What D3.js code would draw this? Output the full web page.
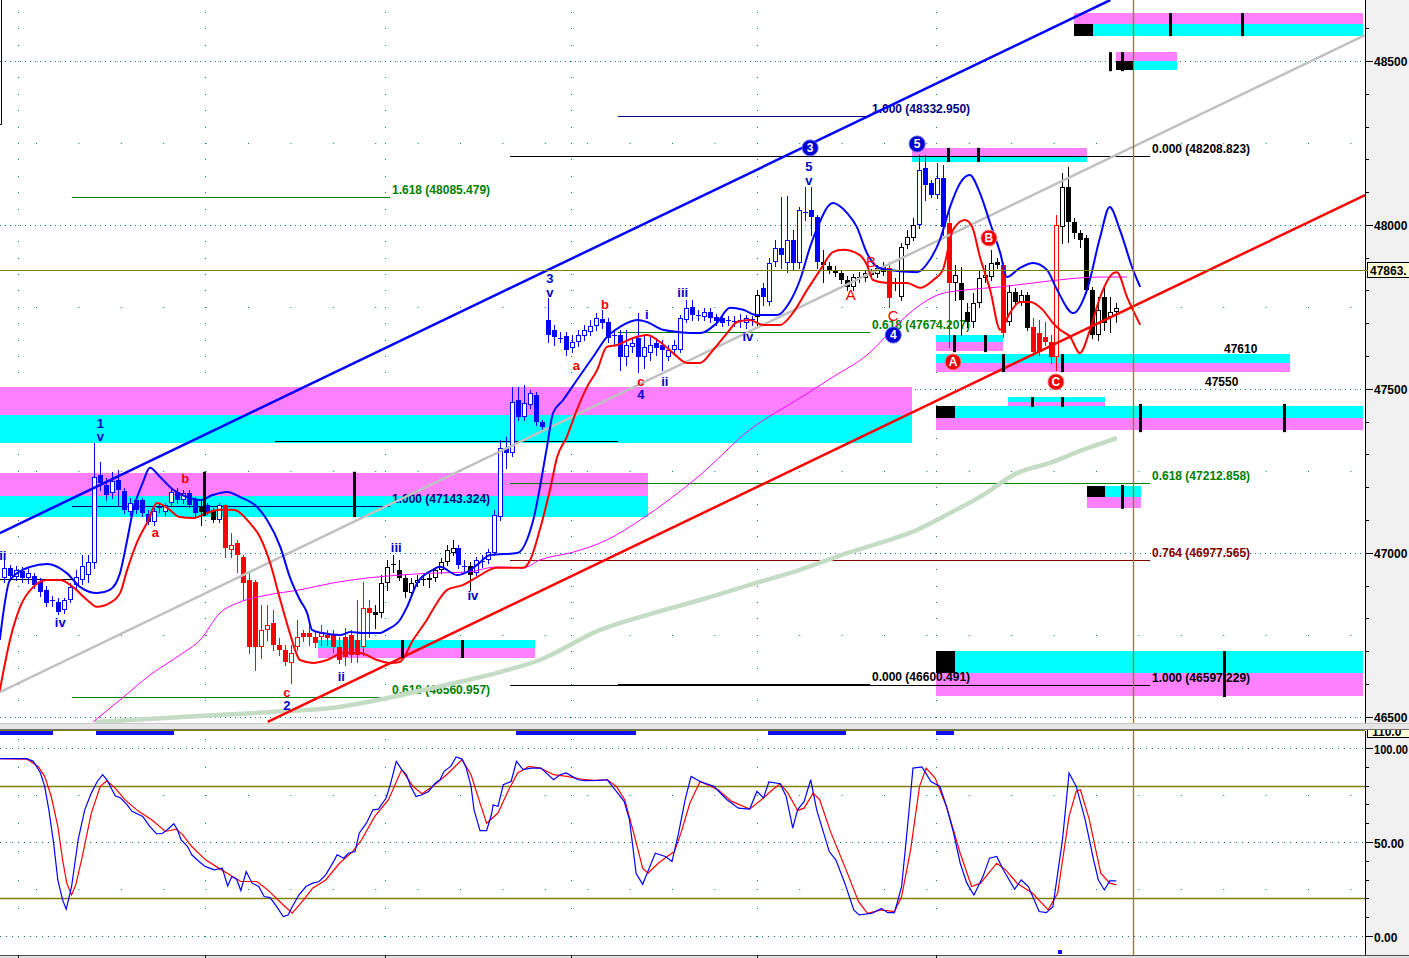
<!DOCTYPE html>
<html><head><meta charset="utf-8">
<script src="https://cdn.jsdelivr.net/npm/d3@7/dist/d3.min.js"></script>
<style>
html,body{margin:0;padding:0;background:#fff;overflow:hidden;}
svg{display:block;font-family:"Liberation Sans",Arial,sans-serif;}
</style></head><body>
<svg id="chart" width="1409" height="958"></svg>
<script>
// ---- price bars (bar index = position in arrays) ----
const opens = [
46923,46954,46926,46944,46923,46929,46911,46887,46856,46850,
46826,46856,46902,46917,46932,46969,47237,47207,47182,47222,
47188,47124,47161,47161,47118,47094,47137,47124,47152,47185,
47161,47182,47161,47140,47146,47131,47100,47146,47009,47030,
46987,46917,46911,46713,46765,46786,46719,46704,46664,46713,
46755,46755,46743,46743,46749,46749,46713,46743,46749,46734,
46713,46832,46819,46816,46908,46963,46948,46923,46877,46908,
46917,46917,46923,46948,46972,46999,47015,46960,46960,46938,
46972,46978,46999,47109,47320,47304,47466,47414,47451,47481,
47399,47710,47680,47655,47661,47625,47643,47661,47673,47692,
47713,47704,47664,47664,47597,47628,47655,47597,47609,47640,
47634,47597,47619,47619,47710,47750,47725,47719,47734,47719,
47716,47710,47707,47707,47701,47710,47719,47808,47765,47887,
47930,47884,47954,47884,48039,48046,48024,47887,47875,47863,
47853,47832,47811,47838,47838,47856,47850,47856,47869,47823,
47780,47939,47960,48000,48174,48128,48091,48143,48006,47823,
47823,47734,47704,47762,47838,47841,47887,47878,47704,47795,
47765,47786,47689,47670,47658,47643,47597,47994,48116,48009,
47975,47960,47802,47664,47780,47719,47734];
const highs = [
46978,46963,46960,46957,46951,46938,46923,46899,46868,46862,
46862,46908,46948,46993,46993,47335,47277,47228,47246,47253,
47198,47167,47170,47167,47131,47137,47149,47152,47198,47198,
47192,47192,47170,47161,47152,47137,47152,47150,47060,47039,
46993,46938,46917,46841,46841,46826,46740,46719,46719,46795,
46765,46780,46758,46780,46765,46765,46743,46771,46765,46856,
46911,46856,46841,46932,46978,46993,46978,46932,46923,46932,
46932,46935,46957,46984,47024,47039,47024,46978,46972,46987,
46993,47012,47131,47344,47353,47506,47506,47512,47497,47490,
47405,47777,47695,47673,47673,47664,47680,47695,47710,47731,
47741,47716,47680,47680,47680,47655,47731,47664,47664,47655,
47649,47634,47649,47725,47771,47771,47741,47747,47747,47728,
47725,47722,47722,47728,47725,47722,47802,47823,47899,47954,
48085,48088,47985,48055,48116,48116,48030,47924,47887,47875,
47863,47844,47850,47856,47863,47866,47878,47887,47887,47838,
47945,47985,48021,48213,48213,48137,48189,48183,48052,47878,
47872,47762,47792,47863,47878,47924,47899,47887,47817,47808,
47802,47795,47716,47710,47704,47664,48030,48158,48177,48021,
47985,47969,47811,47780,47811,47780,47762];
const lows = [
46911,46917,46917,46911,46908,46893,46868,46838,46838,46813,
46816,46850,46893,46905,46911,46954,47192,47161,47167,47146,
47121,47115,47121,47112,47088,47085,47124,47115,47143,47152,
47152,47140,47112,47085,47118,47094,47094,46987,46987,46941,
46856,46694,46643,46679,46734,46704,46688,46658,46603,46704,
46731,46719,46713,46719,46719,46697,46664,46658,46667,46667,
46688,46743,46771,46804,46887,46941,46917,46865,46865,46899,
46902,46896,46914,46938,46963,46993,46954,46941,46887,46932,
46957,46969,46993,47100,47259,47295,47405,47405,47442,47390,
47375,47643,47634,47643,47603,47612,47631,47649,47664,47680,
47686,47643,47634,47558,47573,47612,47551,47564,47588,47603,
47558,47588,47609,47612,47704,47710,47710,47710,47704,47695,
47692,47695,47692,47689,47686,47695,47695,47756,47756,47875,
47869,47856,47863,47869,48015,47969,47869,47826,47853,47844,
47823,47802,47802,47826,47829,47838,47841,47847,47750,47802,
47771,47930,47954,47991,48076,48085,48082,47969,47628,47771,
47664,47689,47689,47750,47826,47832,47869,47658,47695,47756,
47756,47680,47603,47603,47634,47579,47558,47945,47948,47960,
47933,47792,47655,47649,47680,47673,47704];
const closes = [
46954,46929,46948,46923,46938,46902,46880,46847,46853,46819,
46856,46896,46926,46960,46972,47231,47213,47176,47219,47192,
47131,47152,47131,47121,47094,47127,47140,47146,47185,47161,
47182,47146,47121,47124,47124,47100,47146,47015,47024,46993,
46908,46713,46713,46765,46780,46719,46704,46667,46694,46743,
46743,46743,46725,46755,46740,46713,46673,46682,46688,46688,
46832,46816,46810,46908,46957,46966,46923,46880,46908,46917,
46920,46923,46948,46972,47009,47015,46963,46957,46932,46978,
46975,47002,47115,47320,47304,47460,47414,47457,47487,47399,
47384,47664,47658,47652,47619,47643,47664,47680,47692,47716,
47701,47655,47661,47597,47634,47640,47597,47628,47634,47625,
47619,47619,47634,47716,47747,47725,47722,47734,47716,47707,
47701,47707,47704,47710,47716,47713,47786,47780,47884,47930,
47908,47954,47884,48046,48036,48024,47887,47878,47863,47853,
47832,47811,47841,47841,47853,47847,47869,47872,47777,47826,
47933,47963,48000,48168,48122,48091,48143,47994,47823,47847,
47771,47704,47762,47838,47847,47884,47878,47670,47795,47765,
47786,47686,47612,47612,47643,47597,48000,48116,48009,47975,
47954,47802,47664,47741,47701,47734,47747];
// bar colouring state, as runs of [tone, count]
const toneRuns = [["b",33],["k",1],["b",1],["k",1],["b",1],["r",25],["k",14],["b",2],["k",1],["b",47],
  ["k",1],["b",10],["k",11],["r",1],["k",4],["b",5],["r",1],["k",8],["r",1],["k",4],["r",5],["k",10]];

// ---- overlays: [bar index, price] ----
const fastBand = [[-0.7,46734],[1.0,46917],[4.4,46957],[7.2,46966],[10.5,46938],[12.7,46896],[15.6,46877],[17.7,46887],[19.4,46938],[20.6,47039],[21.6,47131],[23.2,47213],[24.4,47259],[26.1,47231],[28.3,47192],[30.6,47170],[32.8,47161],[34.9,47176],[37.3,47185],[39.5,47170],[42.3,47140],[44.0,47100],[46.2,47018],[47.8,46926],[49.5,46856],[50.7,46816],[51.5,46765],[53.3,46755],[56.2,46749],[57.9,46758],[60.0,46755],[62.9,46755],[64.0,46765],[66.2,46795],[67.4,46835],[69.1,46908],[71.7,46948],[72.9,46957],[75.8,46932],[77.4,46941],[79.1,46963],[81.3,46993],[85.8,46999],[88.5,47100],[90.8,47323],[91.8,47426],[93.5,47466],[95.8,47527],[98.5,47597],[100.8,47658],[103.0,47689],[105.9,47710],[107.5,47704],[110.2,47680],[113.0,47673],[116.4,47670],[119.2,47701],[121.4,47747],[123.6,47741],[125.9,47725],[129.3,47725],[131.4,47765],[133.1,47832],[134.8,47933],[136.0,47991],[138.6,48067],[141.0,48036],[142.6,47994],[144.3,47914],[146.0,47872],[147.7,47863],[152.7,47856],[154.8,47893],[156.5,47954],[158.2,48055],[159.9,48128],[161.5,48152],[163.2,48097],[164.9,48006],[166.6,47914],[167.7,47841],[169.9,47869],[172.1,47884],[174.4,47863],[176.1,47802],[178.8,47731],[181.1,47802],[183.3,47963],[184.9,48055],[186.6,47985],[188.8,47863],[190.0,47811]];
const slowBand = [[-0.7,46580],[1.0,46734],[2.7,46835],[4.9,46896],[7.2,46917],[9.4,46917],[11.5,46896],[13.9,46856],[15.6,46835],[17.7,46847],[19.4,46877],[20.6,46948],[22.2,47030],[23.9,47091],[25.6,47152],[27.3,47137],[29.4,47109],[31.6,47106],[33.9,47121],[36.1,47131],[38.3,47131],[41.1,47091],[42.8,47048],[44.5,46969],[46.2,46856],[47.8,46755],[49.5,46673],[51.7,46664],[54.0,46673],[56.7,46694],[59.5,46694],[62.4,46673],[64.5,46664],[66.2,46667],[68.4,46734],[70.7,46795],[72.4,46847],[74.1,46887],[76.8,46902],[79.1,46926],[82.4,46954],[86.8,46954],[88.0,46978],[89.6,47070],[91.3,47192],[92.5,47292],[94.1,47353],[95.8,47436],[97.5,47506],[99.2,47558],[100.8,47628],[102.5,47634],[105.2,47655],[107.5,47664],[109.7,47643],[111.9,47609],[114.2,47579],[116.4,47579],[118.6,47619],[120.9,47670],[122.6,47704],[124.7,47710],[126.9,47695],[129.8,47695],[131.9,47731],[134.3,47802],[136.5,47863],[138.6,47917],[140.3,47924],[143.1,47908],[144.3,47878],[145.3,47832],[147.7,47823],[151.0,47823],[153.2,47808],[155.4,47832],[157.0,47863],[158.7,47985],[160.7,48015],[161.9,47994],[163.2,47902],[164.9,47802],[166.6,47680],[168.2,47731],[169.9,47765],[171.6,47765],[173.7,47741],[175.4,47701],[176.6,47680],[178.3,47658],[179.9,47609],[181.6,47680],[183.3,47780],[185.5,47853],[186.1,47856],[187.8,47780],[190.0,47695]];
const midAverage = [[14.9,46484],[19.4,46551],[24.4,46627],[29.4,46688],[32.8,46734],[36.1,46816],[39.5,46850],[44.0,46871],[49.5,46887],[55.0,46908],[60.7,46923],[66.2,46932],[71.7,46938],[77.4,46941],[82.4,46957],[86.8,46954],[89.6,46978],[95.2,47002],[100.8,47039],[106.4,47100],[116.4,47237],[124.7,47375],[133.1,47472],[138.6,47536],[144.3,47603],[149.8,47704],[153.2,47756],[156.5,47789],[161.0,47802],[166.6,47811],[172.1,47823],[177.8,47835],[183.3,47841],[187.8,47841]];
const longAverage = [[15.2,46484],[32.8,46502],[44.5,46514],[55.0,46527],[63.4,46554],[71.7,46588],[82.9,46636],[89.6,46673],[99.7,46765],[108.0,46813],[116.4,46856],[124.7,46902],[133.1,46948],[141.5,47002],[147.0,47033],[152.7,47070],[158.2,47121],[163.7,47176],[169.4,47243],[174.9,47274],[180.4,47314],[186.1,47350]];

// straight trend lines: [index0, price0, index1, price1, kind]
const trendLines = [
  [-0.7, 46575, 227.6, 48579, "median"],
  [-0.7, 47060, 185.0, 48686, "channel"],
  [44.1, 46484, 227.6, 48091, "support"]
];

// fibonacci levels: [from index, to index, price, ratio, tone]
const fibLevels = [
  [11.4, 64.5, 48085.479, "1.618", "green"],
  [102.7, 144.8, 48332.950, "1.000", "navy"],
  [84.6, 191.6, 48208.823, "0.000", "black"],
  [102.7, 144.8, 47674.207, "0.618", "green"],
  [11.4, 64.5, 47143.324, "1.000", "navy"],
  [11.4, 64.5, 46560.957, "0.618", "green"],
  [102.7, 144.8, 46600.491, "0.000", "black"],
  [84.6, 191.6, 46597.229, "1.000", "black"],
  [84.6, 191.6, 47212.858, "0.618", "green"],
  [84.6, 191.6, 46977.565, "0.764", "maroon"],
  [45.4, 102.7, 47341, null, "black"],
  [-0.7, 11.4, 46920, null, "black"]
];

// supply / demand zones: [from, to, upper, middle, lower, order]
const zones = [
  [-0.7, 151.8, 47506, 47420, 47335, "mc"],
  [-0.7, 107.7, 47243, 47173, 47109, "mc"],
  [52.5, 88.8, 46734, 46710, 46679, "cm"],
  [178.9, 227.3, 48646, 48613, 48576, "mc"],
  [186.0, 196.2, 48527, 48500, 48472, "mc"],
  [151.8, 181.1, 48235, 48207, 48192, "mc"],
  [155.9, 167.1, 47664, 47643, 47615, "cm"],
  [155.9, 215.1, 47606, 47579, 47551, "cm"],
  [167.9, 184.1, 47475, 47460, 47445, "cm"],
  [155.9, 227.3, 47448, 47411, 47374, "cm"],
  [181.1, 190.1, 47204, 47170, 47137, "cm"],
  [155.9, 227.3, 46700, 46633, 46563, "cm"]
];
const zoneBlocks = [[178.9,182.1,48613,48576],[186.0,189.0,48500,48472],[155.9,159.0,47448,47411],[181.1,184.1,47204,47170],[155.9,159.0,46700,46633]];
const zoneTicks = [[33.4,47247,47112],[58.5,47247,47109],[66.6,46734,46679],[76.6,46734,46679],
  [195.0,48646,48576],[207.0,48646,48576],[184.9,48527,48469],[186.9,48527,48469],
  [157.9,48235,48192],[162.9,48235,48192],[158.9,47664,47612],[164.0,47664,47612],
  [167.1,47606,47551],[176.9,47606,47551],[171.9,47475,47445],[176.9,47475,47445],
  [190.0,47454,47368],[214.0,47454,47368],[186.9,47207,47134],[204.0,46700,46560]];
const zoneLabels = [[204.0, 47606, "47610", "above"], [200.8, 47551, "47550", "below"]];

// wave counts: [index, price, text, tone]
const waveLabels = [
  [-0.2,46993,"ii","b"],[9.4,46789,"iv","b"],[16.1,47396,"1","b"],[16.1,47356,"v","b"],
  [47.3,46536,"2","b"],[47.3,46575,"c","r"],[56.4,46624,"ii","b"],[65.6,47018,"iii","b"],
  [78.4,46871,"iv","b"],[25.3,47063,"a","r"],[30.3,47228,"b","r"],[91.3,47838,"3","b"],
  [91.3,47795,"v","b"],[95.7,47573,"a","r"],[100.5,47759,"b","r"],[107.5,47728,"i","b"],
  [106.5,47524,"c","r"],[106.5,47484,"4","b"],[110.5,47524,"ii","b"],[113.5,47795,"iii","b"],
  [124.4,47661,"iv","b"],[134.6,48180,"5","b"],[134.6,48137,"v","b"],
  [141.6,47789,"A","R"],[145.0,47887,"B","R"],[148.7,47722,"C","R"]
];
const waveCircles = [[134.8,48235,"3","b"],[152.7,48247,"5","b"],[148.7,47664,"4","b"],
  [164.7,47960,"B","r"],[158.7,47582,"A","r"],[175.9,47521,"C","r"]];

const lastMarkPrice = 47863;
const cursorIndex = 188.8;
const timeGrid = [2.3, 33.6, 63.7, 94.8, 125.9, 155.9];

// ---- stochastic: [bar index, value] ----
const stochK = [[-0.7,94.3],[3.8,94.3],[4.9,92.9],[6.1,86.7],[6.8,79.6],[7.5,67.1],[8.3,49.4],[9.0,29.8],[9.8,19.2],[10.4,14.2],[11.3,26.3],[12.4,51.2],[13.5,67.1],[14.6,76.0],[15.6,82.2],[16.5,85.8],[17.2,83.1],[18.6,74.6],[19.5,73.4],[20.6,69.8],[21.4,66.3],[23.2,63.6],[24.3,58.6],[25.5,54.4],[26.4,54.4],[27.3,56.5],[28.4,59.7],[29.0,56.5],[29.6,51.2],[30.7,47.6],[31.4,43.2],[32.6,39.6],[33.7,36.9],[35.2,35.2],[36.5,36.1],[37.4,26.6],[38.1,31.6],[38.9,30.2],[39.6,24.2],[40.5,34.3],[41.5,28.1],[42.6,26.3],[43.5,21.0],[44.5,20.4],[45.6,15.6],[46.7,10.3],[47.5,11.2],[48.2,15.6],[49.3,21.8],[50.5,26.3],[51.6,28.1],[52.7,29.0],[53.8,32.5],[55.2,40.1],[55.7,43.2],[56.8,41.4],[57.6,44.0],[58.7,44.9],[59.4,54.7],[60.6,60.0],[61.7,67.1],[62.6,67.5],[63.9,73.4],[64.6,80.5],[65.6,92.9],[66.5,88.5],[67.3,85.8],[68.0,79.6],[68.9,74.2],[69.9,75.1],[71.0,76.9],[72.1,81.3],[72.9,83.1],[73.6,87.6],[74.7,90.2],[75.6,95.2],[76.6,94.1],[77.3,89.3],[78.1,79.6],[78.6,67.1],[79.6,56.0],[80.7,56.0],[81.5,64.5],[81.8,69.8],[82.6,68.9],[83.5,80.5],[84.8,82.2],[85.7,92.9],[86.8,88.5],[88.2,89.3],[89.8,89.3],[91.9,83.1],[93.0,85.8],[94.0,86.7],[95.0,84.9],[96.0,83.1],[97.1,82.6],[99.4,82.8],[100.9,83.1],[102.4,76.9],[103.7,71.6],[104.6,61.8],[105.7,33.4],[106.8,27.5],[108.0,36.9],[108.9,44.0],[110.6,42.3],[111.7,39.6],[112.8,54.7],[113.9,72.5],[114.9,84.9],[116.4,82.2],[118.7,79.6],[120.9,72.5],[122.8,68.0],[124.7,67.5],[125.9,76.9],[127.0,73.4],[127.9,81.9],[129.8,81.0],[130.8,74.2],[131.9,57.4],[132.7,67.1],[133.8,71.6],[134.9,83.1],[135.9,67.1],[138.0,44.9],[139.1,40.5],[140.6,28.1],[142.1,13.9],[143.0,11.2],[145.2,12.1],[146.7,14.7],[147.8,12.4],[148.9,12.4],[150.1,26.3],[151.2,61.8],[152.0,89.3],[153.5,89.9],[155.0,82.2],[156.5,79.6],[157.6,68.9],[158.8,54.7],[159.9,38.7],[161.0,28.1],[162.2,21.8],[163.7,31.6],[164.8,41.4],[166.0,42.3],[167.1,35.2],[169.0,24.9],[170.1,29.8],[171.3,26.3],[173.1,13.0],[174.3,12.4],[175.4,15.6],[177.0,51.2],[178.1,86.7],[179.3,79.6],[180.8,61.8],[182.2,40.5],[183.0,29.8],[184.0,24.5],[184.9,29.3],[186.0,29.3]];
const stochD = [[-0.7,94.3],[3.8,94.1],[5.7,90.2],[6.8,84.9],[7.9,74.2],[9.0,58.3],[9.8,40.5],[10.5,28.1],[11.3,21.8],[12.0,27.2],[13.1,42.3],[14.6,65.4],[16.1,79.6],[17.2,82.6],[18.6,78.7],[20.2,72.5],[22.5,66.3],[24.7,61.8],[27.0,55.6],[28.8,56.8],[29.9,53.8],[31.4,47.6],[33.7,40.5],[35.9,36.1],[37.8,32.5],[39.6,29.0],[42.3,29.0],[44.1,24.5],[46.4,17.4],[48.2,12.1],[50.1,19.2],[51.6,25.4],[53.8,29.8],[56.1,38.7],[58.3,44.9],[59.8,51.2],[62.0,63.6],[64.3,72.5],[66.5,88.5],[68.4,79.6],[69.9,75.7],[71.7,79.6],[74.0,85.8],[76.6,93.8],[78.1,85.8],[79.6,70.7],[80.7,60.0],[82.6,65.4],[84.4,77.8],[85.9,86.7],[87.8,90.2],[89.7,89.3],[91.9,85.8],[94.1,84.9],[96.4,83.5],[98.6,82.8],[100.9,83.1],[102.4,79.6],[103.8,72.5],[105.3,54.7],[106.8,36.1],[107.7,33.4],[109.4,38.7],[110.9,42.3],[112.1,44.9],[113.2,54.7],[114.7,70.7],[116.4,82.2],[119.4,77.8],[121.7,71.6],[124.7,67.5],[127.0,73.4],[128.5,77.8],[129.8,81.0],[131.1,76.0],[132.7,66.8],[133.8,68.0],[135.3,76.0],[136.4,72.5],[138.3,54.7],[140.6,36.9],[142.9,18.3],[144.4,12.1],[146.7,13.9],[148.9,13.0],[150.1,21.0],[151.6,45.8],[153.1,79.6],[154.2,89.3],[155.7,84.0],[157.6,68.9],[159.9,44.0],[161.8,26.3],[163.3,28.1],[166.0,38.7],[167.5,35.2],[169.4,28.1],[172.0,22.7],[174.6,13.9],[176.2,22.7],[178.1,63.6],[179.3,77.0],[180.0,77.8],[181.5,61.8],[183.4,33.4],[184.9,28.1],[186.0,27.2]];
const stochLevels = [80, 20];
const signalRuns = [[-0.7, 8.2], [15.4, 28.4], [85.6, 105.7], [127.8, 140.8], [155.9, 158.9]];
const signalDots = [[176.6, -8.5]];
const priceTicks = d3.range(46500, 48700, 100);
const stochTicks = [0, 10, 20, 30, 40, 50, 60, 70, 80, 90, 100];

// ---- layout ----
const PLOT_R = 1365, MAIN_B = 724, SUB_T = 731, SUB_B = 955;
const x = d3.scaleLinear().domain([0, 186]).range([4, 1116.3]);
const y = d3.scaleLinear().domain([46500, 48500]).range([716.7, 61]);
const ys = d3.scaleLinear().domain([0, 100]).range([936, 748]);
const px = v => Math.round(x(v)) + 0.5;
const py = v => Math.round(y(v)) + 0.5;

const TONE = {b: "#0000ff", k: "#000000", r: "#ff0000"};
const FIB = {green: "#008000", navy: "#000080", black: "#000000", maroon: "#800000"};
const MAG = "#ff80ff", CYAN = "#00ffff", TEAL = "#008080", OLIVE = "#808000";

const svg = d3.select("#chart");
const defs = svg.append("defs");
defs.append("clipPath").attr("id", "cm").append("rect").attr("x", 0).attr("y", 0).attr("width", PLOT_R).attr("height", MAIN_B);
defs.append("clipPath").attr("id", "cs").append("rect").attr("x", 0).attr("y", SUB_T).attr("width", PLOT_R).attr("height", SUB_B - SUB_T);

svg.append("rect").attr("width", 1409).attr("height", 958).attr("fill", "#fff");
svg.append("rect").attr("x", PLOT_R).attr("y", 0).attr("width", 1409 - PLOT_R).attr("height", 958).attr("fill", "#f0f0f0");

const main = svg.append("g").attr("clip-path", "url(#cm)");
const sub = svg.append("g").attr("clip-path", "url(#cs)");

// ---- main grid ----
const grid = main.append("g");
grid.selectAll("line.major").data(d3.range(46500, 48501, 500)).join("line")
  .attr("x1", 0).attr("x2", PLOT_R).attr("y1", py).attr("y2", py)
  .attr("stroke", TEAL).attr("stroke-dasharray", "1,4");
grid.selectAll("line.minor").data(d3.range(46750, 48300, 500)).join("line")
  .attr("x1", 36).attr("x2", PLOT_R).attr("y1", py).attr("y2", py)
  .attr("stroke", TEAL).attr("stroke-dasharray", "1,41.4");
const colDots = timeGrid.flatMap(c => d3.range(46450, 48751, 50).map(p => [c, p]));
grid.selectAll("rect.cd").data(colDots).join("rect")
  .attr("x", d => Math.round(x(d[0]))).attr("y", d => Math.round(y(d[1])))
  .attr("width", 1).attr("height", 1).attr("fill", TEAL);

// ---- zones ----
const zg = main.append("g");
zones.forEach(([a, b, up, mid, lo, order]) => {
  const x0 = Math.round(x(a)), x1 = Math.round(x(b));
  const yTop = Math.round(y(up)), yMid = Math.round(y(mid)), yBot = Math.round(y(lo));
  zg.append("rect").attr("x", x0).attr("y", yTop).attr("width", x1 - x0).attr("height", yMid - yTop)
    .attr("fill", order === "mc" ? MAG : CYAN);
  zg.append("rect").attr("x", x0).attr("y", yMid).attr("width", x1 - x0).attr("height", yBot - yMid)
    .attr("fill", order === "mc" ? CYAN : MAG);
});

// ---- fibonacci levels ----
const fg = main.append("g");
fibLevels.forEach(([a, b, p, ratio, tone]) => {
  fg.append("line").attr("x1", Math.round(x(a))).attr("x2", Math.round(x(b)))
    .attr("y1", py(p)).attr("y2", py(p)).attr("stroke", FIB[tone]).attr("stroke-width", 1);
  if (ratio) {
    fg.append("text").attr("x", Math.round(x(b)) + 2).attr("y", Math.round(y(p)) - 3)
      .attr("fill", FIB[tone]).attr("font-size", 12).attr("font-weight", "bold")
      .text(`${ratio} (${p.toFixed(3)})`);
  }
});
zoneLabels.forEach(([i, p, t, side]) => {
  fg.append("text").attr("x", Math.round(x(i))).attr("y", Math.round(y(p)) + (side === "above" ? -1 : 14))
    .attr("font-size", 12).attr("font-weight", "bold").attr("fill", "#000").text(t);
});

// ---- candles ----
const tones = toneRuns.flatMap(([t, n]) => Array(n).fill(t));
const candles = opens.map((o, i) => ({i, o, h: highs[i], l: lows[i], c: closes[i], t: tones[i]}));
const cg = main.append("g");
const bar = cg.selectAll("g").data(candles).join("g");
bar.append("line")
  .attr("x1", d => px(d.i)).attr("x2", d => px(d.i))
  .attr("y1", d => Math.round(y(d.h))).attr("y2", d => Math.round(y(d.l)) + 1)
  .attr("stroke", d => TONE[d.t]).attr("stroke-width", 1);
bar.each(function (d) {
  const g = d3.select(this);
  const t = Math.round(y(Math.max(d.o, d.c))), b = Math.round(y(Math.min(d.o, d.c)));
  const cx = Math.round(x(d.i));
  if (d.c > d.o && b - t >= 2) {
    g.append("rect").attr("x", cx - 1.5).attr("y", t + 0.5).attr("width", 4).attr("height", b - t - 1)
      .attr("fill", "#fff").attr("stroke", TONE[d.t]).attr("stroke-width", 1);
  } else {
    g.append("rect").attr("x", cx - 2).attr("y", t).attr("width", 5).attr("height", Math.max(1, b - t))
      .attr("fill", TONE[d.t]);
  }
});

// ---- trend lines and averages ----
const lg = main.append("g").attr("fill", "none");
const TREND = {median: ["#c0c0c0", 2.5], channel: ["#0000ff", 2.5], support: ["#ff0000", 2.5]};
const pathOf = d3.line().x(d => x(d[0])).y(d => y(d[1])).curve(d3.curveMonotoneX);
lg.append("path").datum(longAverage).attr("d", pathOf).attr("stroke", "#c4dcc4").attr("stroke-width", 4.5);
lg.append("path").datum(midAverage).attr("d", pathOf).attr("stroke", "#ff00ff").attr("stroke-width", 1);
trendLines.forEach(([a, p0, b, p1, kind]) => {
  lg.append("line").attr("x1", x(a)).attr("y1", y(p0)).attr("x2", x(b)).attr("y2", y(p1))
    .attr("stroke", TREND[kind][0]).attr("stroke-width", TREND[kind][1]);
});
lg.append("path").datum(slowBand).attr("d", pathOf).attr("stroke", "#ff0000").attr("stroke-width", 2);
lg.append("path").datum(fastBand).attr("d", pathOf).attr("stroke", "#0000ff").attr("stroke-width", 2);

// marked price level
main.append("line").attr("x1", 0).attr("x2", PLOT_R).attr("y1", py(lastMarkPrice)).attr("y2", py(lastMarkPrice))
  .attr("stroke", OLIVE).attr("stroke-width", 1);

// ---- zone blocks & ticks ----
const bg = main.append("g");
zoneBlocks.forEach(([a, b, up, lo]) => {
  bg.append("rect").attr("x", Math.round(x(a))).attr("y", Math.round(y(up)))
    .attr("width", Math.round(x(b)) - Math.round(x(a))).attr("height", Math.round(y(lo)) - Math.round(y(up)))
    .attr("fill", "#000");
});
zoneTicks.forEach(([i, up, lo]) => {
  bg.append("line").attr("x1", px(i)).attr("x2", px(i)).attr("y1", y(up)).attr("y2", y(lo))
    .attr("stroke", "#000").attr("stroke-width", 3);
});

// ---- wave annotations ----
const wg = main.append("g").attr("text-anchor", "middle");
waveLabels.forEach(([i, p, t, tone]) => {
  const upper = tone === "R";
  wg.append("text").attr("x", x(i)).attr("y", y(p)).attr("dy", "0.36em")
    .attr("fill", tone === "b" ? "#0000cc" : "#ee0000")
    .attr("font-size", upper ? 15 : 13).attr("font-weight", upper ? "normal" : "bold").text(t);
});
waveCircles.forEach(([i, p, t, tone]) => {
  wg.append("circle").attr("cx", x(i)).attr("cy", y(p)).attr("r", 8)
    .attr("fill", tone === "b" ? "#0000cc" : "#ee0000").attr("stroke", tone === "b" ? "#6060ff" : "#ff8080").attr("stroke-width", 1);
  wg.append("text").attr("x", x(i)).attr("y", y(p)).attr("dy", "0.36em").attr("fill", "#fff")
    .attr("font-size", 12).attr("font-weight", "bold").text(t);
});

// top-left legend frame edge
svg.append("path").attr("d", "M1.5,0V124.5H0").attr("fill", "none").attr("stroke", "#000");

// ---- stochastic pane ----
sub.selectAll("line.sm").data([0, 50, 100]).join("line")
  .attr("x1", 0).attr("x2", PLOT_R).attr("y1", d => Math.round(ys(d)) + 0.5).attr("y2", d => Math.round(ys(d)) + 0.5)
  .attr("stroke", TEAL).attr("stroke-dasharray", "1,5");
sub.selectAll("line.sn").data([25, 75]).join("line")
  .attr("x1", 36).attr("x2", PLOT_R).attr("y1", d => Math.round(ys(d)) + 0.5).attr("y2", d => Math.round(ys(d)) + 0.5)
  .attr("stroke", TEAL).attr("stroke-dasharray", "1,41.4");
const sDots = timeGrid.flatMap(c => d3.range(0, 106, 15).map(v => [c, v]));
sub.selectAll("rect.sd").data(sDots).join("rect")
  .attr("x", d => Math.round(x(d[0]))).attr("y", d => Math.round(ys(d[1])))
  .attr("width", 1).attr("height", 1).attr("fill", TEAL);
sub.selectAll("line.lv").data(stochLevels).join("line")
  .attr("x1", 0).attr("x2", PLOT_R).attr("y1", d => Math.round(ys(d)) + 0.5).attr("y2", d => Math.round(ys(d)) + 0.5)
  .attr("stroke", OLIVE).attr("stroke-width", 1.5);
const sLine = d3.line().x(d => x(d[0])).y(d => ys(d[1]));
sub.append("path").datum(stochD).attr("d", sLine).attr("fill", "none").attr("stroke", "#ff0000").attr("stroke-width", 1.2);
sub.append("path").datum(stochK).attr("d", sLine).attr("fill", "none").attr("stroke", "#0000ff").attr("stroke-width", 1.2);
sub.selectAll("rect.sr").data(signalRuns).join("rect")
  .attr("x", d => Math.max(0, Math.round(x(d[0])))).attr("y", SUB_T)
  .attr("width", d => Math.round(x(d[1])) - Math.max(0, Math.round(x(d[0])))).attr("height", 4).attr("fill", "#1010ee");
sub.selectAll("rect.sq").data(signalDots).join("rect")
  .attr("x", d => Math.round(x(d[0])) - 2).attr("y", d => Math.round(ys(d[1])) - 2)
  .attr("width", 4).attr("height", 4).attr("fill", "#1010ee");

// cursor across both panes
svg.append("line").attr("x1", px(cursorIndex)).attr("x2", px(cursorIndex)).attr("y1", 0).attr("y2", SUB_B)
  .attr("stroke", "#908000").attr("stroke-width", 1.3);

// ---- right axes ----
const ax = svg.append("g").attr("font-size", 12).attr("font-weight", "bold");
ax.append("line").attr("x1", PLOT_R + 0.5).attr("x2", PLOT_R + 0.5).attr("y1", 0).attr("y2", MAIN_B).attr("stroke", "#000");
ax.append("line").attr("x1", PLOT_R + 0.5).attr("x2", PLOT_R + 0.5).attr("y1", SUB_T).attr("y2", SUB_B).attr("stroke", "#000");
priceTicks.forEach(p => {
  const major = p % 500 === 0;
  ax.append("line").attr("x1", PLOT_R + 1).attr("x2", PLOT_R + (major ? 8 : 4)).attr("y1", py(p)).attr("y2", py(p)).attr("stroke", "#000");
  if (major) ax.append("text").attr("x", PLOT_R + 9).attr("y", Math.round(y(p)) + 5).text(p);
});
stochTicks.forEach(v => {
  const major = v % 50 === 0;
  const yy = Math.round(ys(v)) + 0.5;
  ax.append("line").attr("x1", PLOT_R + 1).attr("x2", PLOT_R + (major ? 8 : 4)).attr("y1", yy).attr("y2", yy).attr("stroke", "#000");
  if (major) ax.append("text").attr("x", PLOT_R + 9).attr("y", yy + 5).attr("textLength", v === 100 ? 34 : null)
    .attr("lengthAdjust", "spacingAndGlyphs").text(v.toFixed(2));
});
// current price tag
ax.append("rect").attr("x", PLOT_R + 2.5).attr("y", Math.round(y(lastMarkPrice)) - 7.5).attr("width", 50).attr("height", 15)
  .attr("fill", "#ffffd8").attr("stroke", "#000");
ax.append("line").attr("x1", PLOT_R).attr("x2", PLOT_R + 3).attr("y1", py(lastMarkPrice)).attr("y2", py(lastMarkPrice)).attr("stroke", OLIVE);
ax.append("text").attr("x", PLOT_R + 5).attr("y", Math.round(y(lastMarkPrice)) + 5).text(lastMarkPrice.toFixed(0) + ".");
// stochastic scale top tag (partly under the pane divider)
ax.append("rect").attr("x", PLOT_R + 2.5).attr("y", 727.5).attr("width", 50).attr("height", 10).attr("fill", "#ffffd8").attr("stroke", "#000");
ax.append("text").attr("x", PLOT_R + 7).attr("y", 736).text("110.0");

// pane separator and bottom strip
svg.append("rect").attr("x", 0).attr("y", 724).attr("width", 1409).attr("height", 5).attr("fill", "#e6e6e6");
svg.append("line").attr("x1", 0).attr("x2", 1409).attr("y1", 723.5).attr("y2", 723.5).attr("stroke", "#c8c8c8");
svg.append("line").attr("x1", 0).attr("x2", 1409).attr("y1", 729.5).attr("y2", 729.5).attr("stroke", "#707070");
svg.append("line").attr("x1", 0).attr("x2", PLOT_R).attr("y1", 730.5).attr("y2", 730.5).attr("stroke", OLIVE);
svg.append("rect").attr("x", 0).attr("y", 955).attr("width", 1409).attr("height", 3).attr("fill", "#e0e0e0");
svg.append("line").attr("x1", 0).attr("x2", 1409).attr("y1", 955.5).attr("y2", 955.5).attr("stroke", "#505050");
svg.selectAll("line.tt").data(timeGrid).join("line")
  .attr("x1", d => px(d)).attr("x2", d => px(d)).attr("y1", 955).attr("y2", 958).attr("stroke", "#000");
</script>
</body></html>
